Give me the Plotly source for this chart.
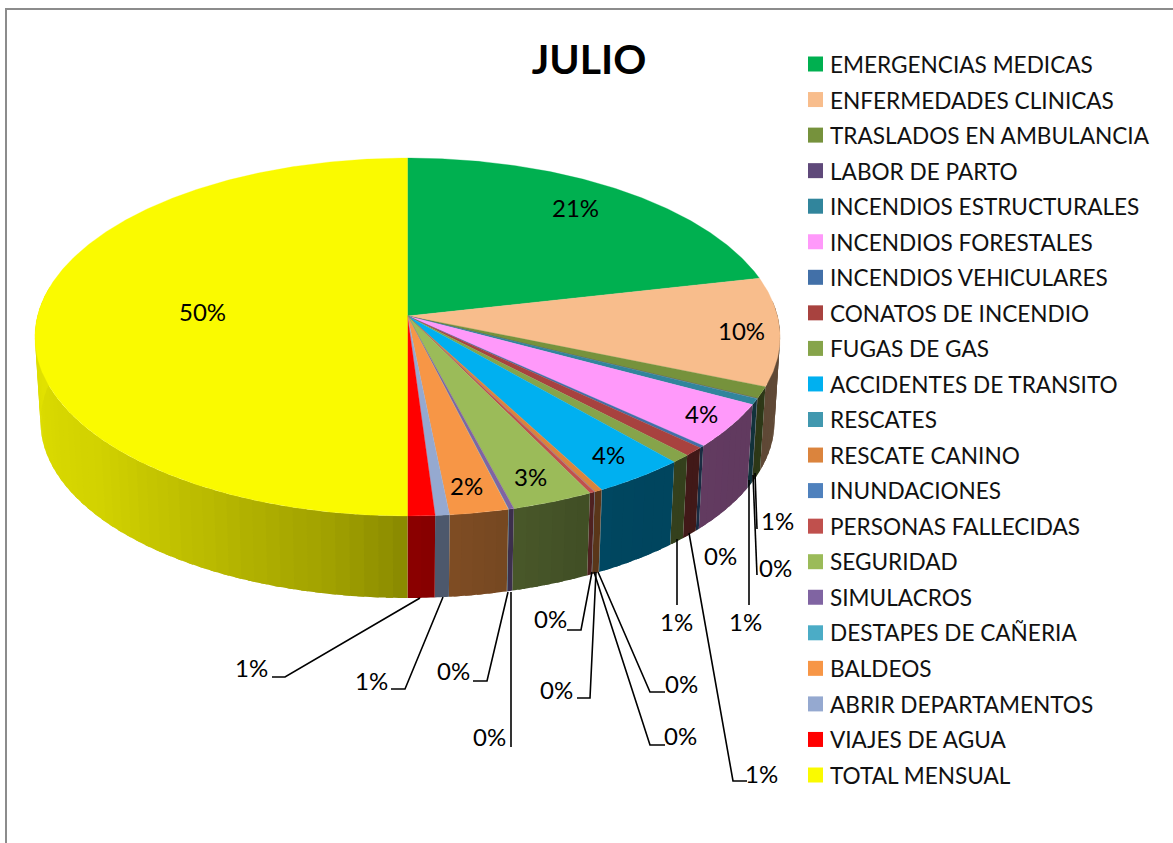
import numpy as np
import plotly.graph_objects as go

categories = ["EMERGENCIAS MEDICAS", "ENFERMEDADES CLINICAS", "TRASLADOS EN AMBULANCIA", "LABOR DE PARTO",
              "INCENDIOS ESTRUCTURALES", "INCENDIOS FORESTALES", "INCENDIOS VEHICULARES", "CONATOS DE INCENDIO",
              "FUGAS DE GAS", "ACCIDENTES DE TRANSITO", "RESCATES", "RESCATE CANINO", "INUNDACIONES",
              "PERSONAS FALLECIDAS", "SEGURIDAD", "SIMULACROS", "DESTAPES DE CAÑERIA", "BALDEOS",
              "ABRIR DEPARTAMENTOS", "VIAJES DE AGUA", "TOTAL MENSUAL"]
values = [21.47, 9.78, 1.05, 0.04, 0.52, 3.98, 0.2, 0.8, 0.75, 3.6, 0.02, 0.3, 0.02, 0.2, 3.17, 0.2, 0.02, 2.28,
          0.55, 1.05, 50.0]
colors = ["#00B050", "#F8BD8C", "#76923C", "#5F497A", "#31859C", "#FF99FA", "#4270A8", "#A8423F", "#86A44A",
          "#00B0F0", "#4198AF", "#DB843D", "#4F81BD", "#C0504D", "#9BBB59", "#8064A2", "#4BACC6", "#F79646",
          "#95A9D0", "#FF0000", "#FAFA00"]

# label position per category, in chart pixels
label_x = [575, 741, 777, 775, 745, 701, 720, 761, 676, 608, 681, 680, 550, 556, 530, 453, 489, 466, 371, 251, 202]
label_y = [207, 330, 520, 567, 621, 413, 555, 773, 621, 454, 683, 735, 618, 689, 476, 670, 736, 485, 680, 667, 311]

leaders = [
    [(755, 473), (757, 529)], [(753, 475), (757, 575)], [(749, 480), (749, 605)], [(689, 533), (733, 781), (747, 781)],
    [(677, 539), (677, 605)], [(598, 572), (650, 692), (665, 692)], [(594, 572), (650, 745), (665, 745)],
    [(592, 572), (581, 630), (567, 630)], [(596, 572), (590, 698), (577, 698)], [(508, 592), (487, 681), (473, 681)],
    [(511, 592), (511, 747)], [(443, 597), (405, 689), (391, 689)], [(420, 598), (285, 677), (272, 677)],
]

# perspective pie geometry
CX, CY_TOP, CY_BOT = 407.5, 316.0, 401.0
K, A, B, SHRINK = 0.1173, 176.5, 370.0, 0.985

# legend swatch column: plotly fixes the swatch-to-text gap, so swatches sit on the plot beside native legend text
SWATCH_X, SWATCH_Y0, ROW_STEP = 815.5, 64.0, 35.55


def project(deg, bottom=False):
    t = np.radians(deg)
    w = 1 + K * np.cos(t)
    s = SHRINK if bottom else 1.0
    cy = CY_BOT if bottom else CY_TOP
    return CX + s * B * np.sin(t) / w, cy - s * A * np.cos(t) / w


def shade(hex_color, f):
    r, g, b = (int(hex_color[i:i + 2], 16) for i in (1, 3, 5))
    return f"rgb({int(r * f)},{int(g * f)},{int(b * f)})"


def wall_factor(deg):
    return float(np.interp(deg, [85, 120, 150, 175, 180, 190, 210, 230, 270, 280],
                           [.40, .38, .40, .52, .55, .64, .75, .84, .90, .90]))


fig = go.Figure()
edges = np.concatenate([[0], np.cumsum(values)]) / sum(values) * 360

# side walls: each strip runs on under the next one, so no seams show
for col, a0, a1 in zip(colors, edges[:-1], edges[1:]):
    lo, hi = max(a0, 85), min(a1, 280)
    if hi <= lo:
        continue
    n = max(1, int(np.ceil((hi - lo) / 2)))
    cuts = np.linspace(lo, hi, n + 1)
    for c0, c1 in zip(cuts[:-1], cuts[1:]):
        arc = np.linspace(c0, min(c1 + 1.0, hi), 6)
        xt, yt = project(arc)
        xb, yb = project(arc[::-1], bottom=True)
        fc = shade(col, wall_factor((c0 + c1) / 2))
        fig.add_trace(go.Scatter(x=np.r_[xt, xb, xt[0]], y=np.r_[yt, yb, yt[0]], mode="none", fill="toself",
                                 fillcolor=fc, showlegend=False, hoverinfo="skip"))

# top faces
for name, col, v, a0, a1 in zip(categories, colors, values, edges[:-1], edges[1:]):
    arc = np.linspace(a0, a1, max(3, int((a1 - a0) * 2) + 2))
    xt, yt = project(arc)
    fig.add_trace(go.Scatter(x=np.r_[CX, xt, CX], y=np.r_[CY_TOP, yt, CY_TOP], mode="lines", fill="toself",
                             fillcolor=col, line=dict(color=col, width=0.3), showlegend=False,
                             name=name, text=f"{v:.0f}%", hoverinfo="name+text"))

# leader lines
for pts in leaders:
    fig.add_trace(go.Scatter(x=[p[0] for p in pts], y=[p[1] for p in pts], mode="lines",
                             line=dict(color="#000000", width=1.6), showlegend=False, hoverinfo="skip"))

# legend entries and swatches
fig.add_trace(go.Scatter(x=[SWATCH_X] * len(colors), y=[SWATCH_Y0 + ROW_STEP * i for i in range(len(colors))],
                         mode="markers", showlegend=False, hoverinfo="skip",
                         marker=dict(symbol="square", size=15, color=colors)))
for name in categories:
    fig.add_trace(go.Scatter(x=[None], y=[None], mode="markers", name=name, legendgroup=name,
                             marker=dict(symbol="square", size=15, color="rgba(0,0,0,0)")))

annotations = [dict(x=x, y=y, text=f"{v:.0f}%", showarrow=False, xref="x", yref="y", xanchor="center", yanchor="middle",
                    font=dict(family="Lato", size=24, color="#000000"))
               for x, y, v in zip(label_x, label_y, values)]

fig.update_layout(
    width=1173, height=843, margin=dict(l=0, r=0, t=0, b=0), paper_bgcolor="#FFFFFF", plot_bgcolor="#FFFFFF",
    xaxis=dict(range=[0, 1173], visible=False, fixedrange=True),
    yaxis=dict(range=[843, 0], visible=False, fixedrange=True),
    title=dict(text="<b>JULIO</b>", x=589 / 1173, y=1 - 60 / 843, xanchor="center", yanchor="middle",
               font=dict(family="Lato", size=41, color="#000000")),
    legend=dict(x=795 / 1173, y=1 - 43 / 843, xanchor="left", yanchor="top", tracegroupgap=3.15, itemwidth=30,
                indentation=-5, font=dict(family="Lato", size=22.6, color="#111111"), bgcolor="rgba(0,0,0,0)",
                traceorder="grouped", itemclick=False, itemdoubleclick=False),
    shapes=[dict(type="path", path="M 6 843 L 6 9 L 1173 9", xref="x", yref="y",
                 line=dict(color="#8C8C8C", width=2))],
    annotations=annotations,
)
fig.write_html("out.html", post_script="document.body.style.margin='0';",
               config={"displayModeBar": False})
